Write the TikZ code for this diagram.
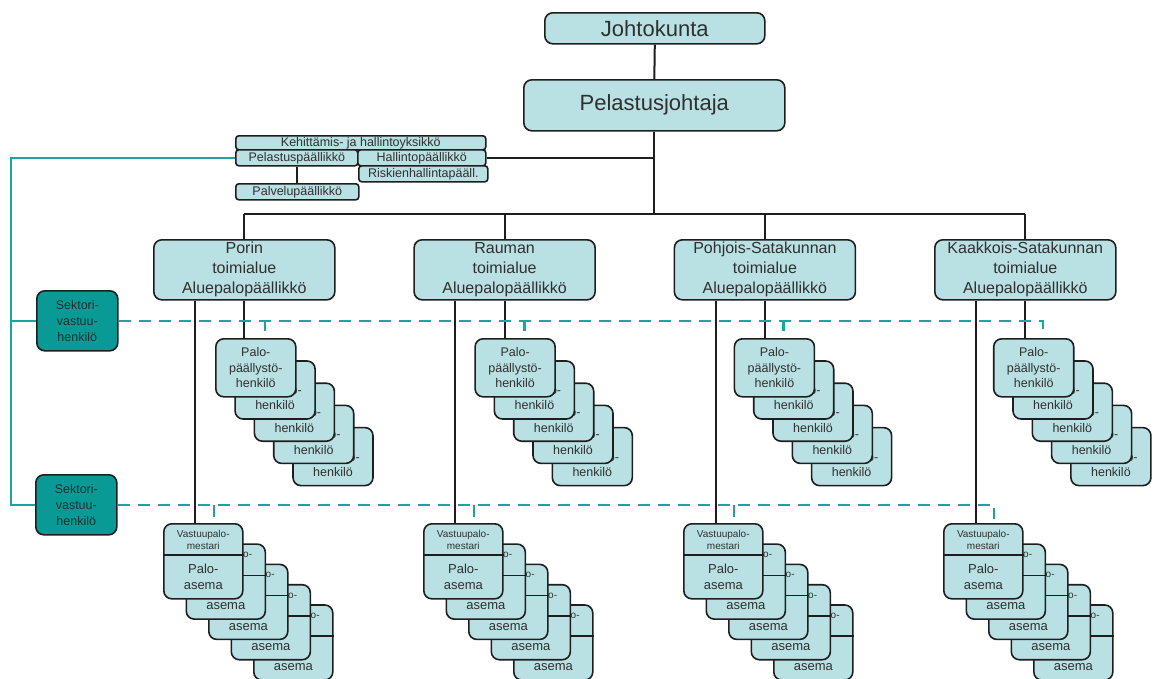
\documentclass[tikz,border=0pt]{standalone}
\usepackage{fontspec}
\setmainfont{Liberation Sans}
\usetikzlibrary{calc}
\definecolor{boxfill}{HTML}{B9E0E3}
\definecolor{sectfill}{HTML}{0A9A95}
\definecolor{tealline}{HTML}{1AA6A0}
\definecolor{edgecol}{HTML}{1E1E1E}
\definecolor{txt}{HTML}{303030}
\definecolor{secttxt}{HTML}{163232}
\begin{document}
\begin{tikzpicture}[x=1pt,y=-1pt,
  box/.style={draw=edgecol, line width=1.6pt, fill=boxfill, rounded corners=5pt,
    inner sep=0pt, align=center, text=txt, anchor=north west},
  bigbox/.style={box, rounded corners=8pt},
  smallbox/.style={box, rounded corners=3pt, font=\fontsize{12.5}{14}\selectfont,
    text height=9.5pt, text depth=2.5pt},
  regbox/.style={bigbox, minimum width=181pt, minimum height=60pt,
    font=\fontsize{16}{20}\selectfont},
  sectbox/.style={box, fill=sectfill, rounded corners=8pt, minimum width=81pt,
    minimum height=60pt, text=secttxt, font=\fontsize{12.5}{16}\selectfont},
  ppcard/.style={box, rounded corners=8pt, minimum width=80pt, minimum height=58pt,
    font=\fontsize{12.5}{15.5}\selectfont},
  pacard/.style={box, rounded corners=8pt, minimum width=79pt, minimum height=75pt},
  conn/.style={draw=edgecol, line width=2pt},
  tealsolid/.style={draw=tealline, line width=2.2pt},
  tealdash/.style={draw=tealline, line width=2.6pt, dash pattern=on 12pt off 8pt}
]
\useasboundingbox (0,0) rectangle (1155,678);
\fill[white] (0,0) rectangle (1155,678);

% top boxes
\node[bigbox, minimum width=220pt, minimum height=31pt, font=\fontsize{22}{26}\selectfont]
  (J) at (544,12) {Johtokunta};
\node[bigbox, minimum width=261pt, minimum height=51pt, font=\fontsize{22}{26}\selectfont]
  (PJ) at (523,79) {Pelastusjohtaja};

% staff boxes
\node[smallbox, minimum width=250pt, minimum height=14pt] (Keh) at (235,135) {Kehittämis- ja hallintoyksikkö};
\node[smallbox, minimum width=122pt, minimum height=16pt] (PelP) at (235,149) {Pelastuspäällikkö};
\node[smallbox, minimum width=128pt, minimum height=16pt] (Hal) at (357,149) {Hallintopäällikkö};
\node[smallbox, minimum width=129pt, minimum height=16pt] (Ris) at (358,165) {Riskienhallintapääll.};
\node[smallbox, minimum width=123pt, minimum height=16pt] (Palv) at (235,183) {Palvelupäällikkö};

% regional boxes
\node[regbox] (R0) at (153,239) {Porin\\toimialue\\Aluepalopäällikkö};
\node[regbox] (R1) at (413.3,239) {Rauman\\toimialue\\Aluepalopäällikkö};
\node[regbox] (R2) at (673.6,239) {Pohjois-Satakunnan\\toimialue\\Aluepalopäällikkö};
\node[regbox] (R3) at (934,239) {Kaakkois-Satakunnan\\toimialue\\Aluepalopäällikkö};

% sector boxes
\node[sectbox] (S1) at (36,290) {Sektori-\\vastuu-\\henkilö};
\node[sectbox] (S2) at (35,474) {Sektori-\\vastuu-\\henkilö};

% coordinates
\coordinate (bus) at (0,214);
\coordinate (tc) at (11,0);

% black connectors (top)
\draw[conn] (J.south) -- (PJ.north);
\draw[conn] (PJ.south) -- (PJ.south |- bus);
\draw[conn] (Hal.east) -- (Hal.east -| PJ.south);
\draw[conn] (PelP.south) -- (PelP.south |- Palv.north);
\draw[conn] (R0.north |- bus) -- (R3.north |- bus);
\foreach \g in {0,1,2,3} {
  \draw[conn] (R\g.north) -- (R\g.north |- bus);
}

% teal solid connectors
\draw[tealsolid] (PelP.west) -- (PelP.west -| tc) -- (S2.west -| tc) -- (S2.west);
\draw[tealsolid] (S1.west -| tc) -- (S1.west);

% cards
\foreach \g in {0,1,2,3} {
  \foreach \i in {4,3,2,1,0} {
    \node[ppcard] (PP\g-\i) at ({215+259.3*\g+19.3*\i},{338+22.2*\i}) {Palo-\\päällystö-\\henkilö};
  }
  \foreach \i in {4,3,2,1,0} {
    \node[pacard] (PA\g-\i) at ({163+260*\g+22.5*\i},{523+20.3*\i}) {};
    \draw[draw=edgecol, line width=1.6pt] ([yshift=-32pt]PA\g-\i.north west) -- ([yshift=-32pt]PA\g-\i.north east);
    \node[align=center, text=txt, font=\fontsize{10}{12.5}\selectfont, inner sep=0pt]
      (PAt\g-\i) at ([yshift=-17pt]PA\g-\i.north) {Vastuupalo-\\mestari};
    \node[align=center, text=txt, font=\fontsize{13}{15.5}\selectfont, inner sep=0pt]
      (PAb\g-\i) at ([yshift=-54pt]PA\g-\i.north) {Palo-\\asema};
  }
  \coordinate (L\g) at ($(R\g.south west)+(42,0)$);
  \draw[conn] (L\g) -- (L\g |- PA\g-0.north);
  \draw[conn] (R\g.south) -- (R\g.south |- PP\g-0.north);
  \coordinate (du\g) at ($(PP\g-0.north west)+(50,-7)$);
  \coordinate (dl\g) at ($(PA\g-0.north west)+(51,-4)$);
}

% dashed teal lines
\draw[tealdash] (S1.east) -- (S1.east -| du3) -- (du3);
\draw[tealdash] (S2.east) -- (S2.east -| dl3) -- (dl3);
\foreach \g in {0,1,2} {
  \draw[tealdash] (S1.east -| du\g) -- (du\g);
  \draw[tealdash] (S2.east -| dl\g) -- (dl\g);
}
\end{tikzpicture}
\end{document}
